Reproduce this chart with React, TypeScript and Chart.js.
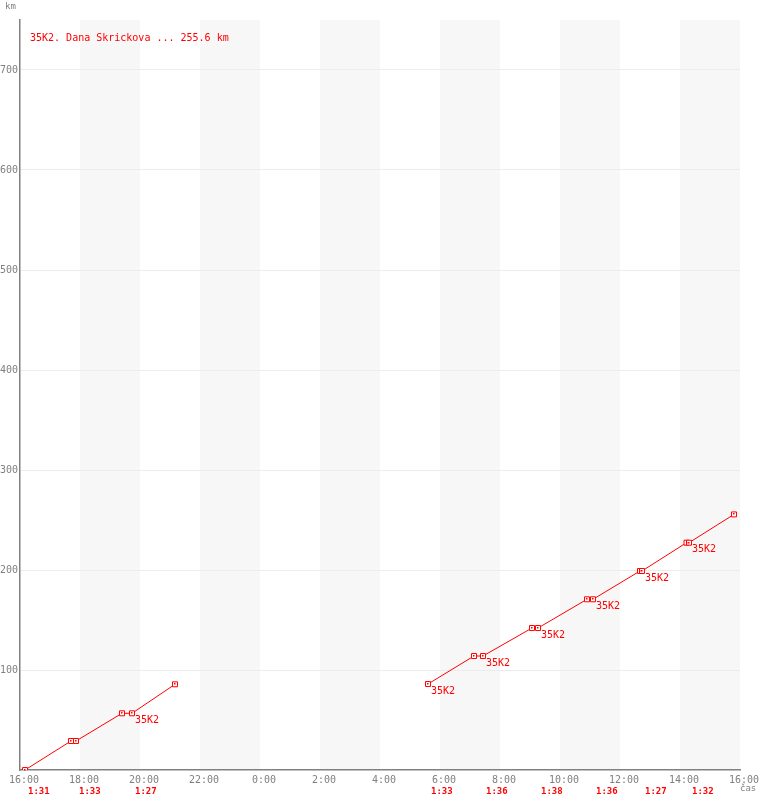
import React, { useEffect, useRef } from "react";
import { Chart, registerables } from "chart.js";

Chart.register(...registerables);

// Data
const TITLE = "35K2. Dana Skrickova ... 255.6 km";
const seg1Times = ["16:10", "17:42", "17:52", "19:24", "19:44", "21:10"];
const seg1Km = [0, 29, 29, 56.7, 56.7, 85.7];
const seg2Times = ["5:36", "7:08", "7:26", "9:04", "9:16", "10:54", "11:06", "12:40", "12:44", "14:13", "14:18", "15:48"];
const seg2Km = [86, 114, 114, 142, 142, 170.7, 170.7, 199, 199, 227.3, 227.3, 255.6];
const lapStarts = ["16:10", "17:52", "19:44", "5:36", "7:26", "9:16", "11:06", "12:44", "14:18"];
const lapLabels = ["1:31", "1:33", "1:27", "1:33", "1:36", "1:38", "1:36", "1:27", "1:32"];
const tagTimes = ["19:44", "5:36", "7:26", "9:16", "11:06", "12:44", "14:18"];
const tagKm = [56.7, 86, 114, 142, 170.7, 199, 227.3];
const tagText = "35K2";
const bandStarts = ["18:00", "22:00", "2:00", "6:00", "10:00", "14:00"];
const START_HOUR = 16;

const toX = (t: string) => {
  const [h, m] = t.split(":").map(Number);
  return (((h * 60 + m) - START_HOUR * 60) % 1440 + 1440) % 1440;
};

const MONO = "'DejaVu Sans Mono', monospace";
const RED = "#ff0000";
const GRAY = "#808080";

export default function App() {
  const ref = useRef<HTMLCanvasElement | null>(null);

  useEffect(() => {
    if (!ref.current) return;
    const overlay = {
      id: "overlay",
      beforeDraw(chart: any) {
        const { ctx, chartArea } = chart;
        const xs = chart.scales.x;
        ctx.save();
        ctx.fillStyle = "#f7f7f7";
        bandStarts.forEach((b) => {
          const x0 = xs.getPixelForValue(toX(b));
          const x1 = xs.getPixelForValue(toX(b) + 120);
          ctx.fillRect(x0, chartArea.top, x1 - x0, chartArea.bottom - chartArea.top);
        });
        ctx.restore();
      },
      afterDraw(chart: any) {
        const { ctx } = chart;
        const xs = chart.scales.x;
        const ys = chart.scales.y;
        ctx.save();
        // center dots of markers
        ctx.fillStyle = RED;
        chart.data.datasets.forEach((ds: any, i: number) => {
          chart.getDatasetMeta(i).data.forEach((pt: any) => {
            ctx.fillRect(Math.round(pt.x) - 1, Math.round(pt.y) - 1, 1.5, 1.5);
          });
        });
        ctx.textBaseline = "middle";
        ctx.textAlign = "left";
        // title
        ctx.font = `10px ${MONO}`;
        ctx.fillStyle = RED;
        ctx.fillText(TITLE, 30, 38);
        // tags
        tagTimes.forEach((t, i) => {
          const x = xs.getPixelForValue(toX(t));
          const y = ys.getPixelForValue(tagKm[i]);
          ctx.fillText(tagText, x + 3, y + 7);
        });
        // lap labels
        ctx.font = `bold 9px ${MONO}`;
        lapStarts.forEach((t, i) => {
          const x = xs.getPixelForValue(toX(t));
          ctx.fillText(lapLabels[i], x + 3, 792);
        });
        // axis titles
        ctx.font = `9px ${MONO}`;
        ctx.fillStyle = GRAY;
        ctx.fillText("km", 5, 7);
        ctx.fillText("čas", 740, 789);
        ctx.restore();
      },
    };

    const chart = new Chart(ref.current, {
      type: "line",
      data: {
        datasets: [
          {
            data: seg1Times.map((t, i) => ({ x: toX(t), y: seg1Km[i] })),
          },
          {
            data: seg2Times.map((t, i) => ({ x: toX(t), y: seg2Km[i] })),
          },
        ].map((d) => ({
          ...d,
          borderColor: RED,
          borderWidth: 1,
          backgroundColor: "#ffffff",
          pointStyle: "rect",
          pointRadius: 3.5,
          pointBorderWidth: 1,
          pointBorderColor: RED,
          pointBackgroundColor: "#ffffff",
          tension: 0,
        })),
      },
      options: {
        animation: false,
        responsive: false,
        layout: { padding: { top: 20, right: 20, left: 0, bottom: 0 } },
        plugins: {
          legend: { display: false },
          tooltip: { enabled: false },
          title: { display: false },
        },
        scales: {
          x: {
            type: "linear",
            min: 0,
            max: 1440,
            afterFit: (s: any) => {
              s.height = 30;
            },
            grid: { color: "rgba(0,0,0,0)", drawTicks: false },
            border: { display: true, color: GRAY, width: 1.5 },
            ticks: {
              stepSize: 120,
              maxTicksLimit: 20,
              autoSkip: false,
              maxRotation: 0,
              labelOffset: 4,
              padding: 4,
              color: GRAY,
              font: { size: 10, family: MONO },
              callback: (v: any) => `${(START_HOUR + Math.round(Number(v) / 60)) % 24}:00`,
            },
          },
          y: {
            type: "linear",
            min: 0,
            max: 750,
            afterFit: (s: any) => {
              s.width = 20;
            },
            grid: {
              drawTicks: false,
              color: (c: any) => (c.tick && (c.tick.value === 0 || c.tick.value === 750) ? "rgba(0,0,0,0)" : "#ececec"),
            },
            border: { display: true, color: GRAY, width: 1.5 },
            ticks: {
              stepSize: 100,
              padding: 2,
              color: GRAY,
              font: { size: 10, family: MONO },
              callback: (v: any) => (Number(v) === 0 || Number(v) === 750 ? "" : String(v)),
            },
          },
        },
      },
      plugins: [overlay],
    } as any);
    return () => chart.destroy();
  }, []);

  return (
    <div style={{ position: "fixed", left: 0, top: 0, width: 760, height: 800, background: "#fff" }}>
      <canvas ref={ref} width={760} height={800} />
    </div>
  );
}
